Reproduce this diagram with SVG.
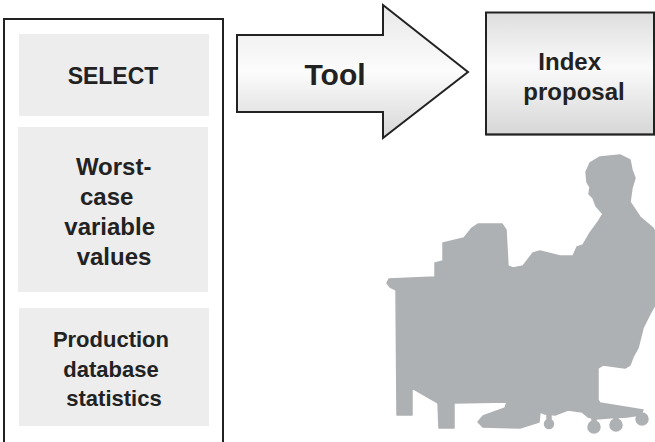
<svg xmlns="http://www.w3.org/2000/svg" width="655" height="442" viewBox="0 0 655 442">
  <defs>
    <linearGradient id="arrowFill" gradientUnits="userSpaceOnUse" x1="0" y1="5" x2="0" y2="138">
      <stop offset="0" stop-color="#e8e8e8"/>
      <stop offset="0.5" stop-color="#fcfcfc"/>
      <stop offset="1" stop-color="#d6d6d6"/>
    </linearGradient>
    <linearGradient id="boxFill" gradientUnits="userSpaceOnUse" x1="0" y1="13" x2="0" y2="135">
      <stop offset="0" stop-color="#dedede"/>
      <stop offset="0.45" stop-color="#fafafa"/>
      <stop offset="1" stop-color="#d6d6d6"/>
    </linearGradient>
  </defs>
  <style>
    .frame { fill: #ffffff; stroke: #222222; stroke-width: 2; }
    .panel { fill: #ededed; }
    .lbl { font-family: "Liberation Sans", Arial, sans-serif; font-weight: bold; fill: #222222; text-anchor: middle; }
    .figure { fill: #aeb1b3; stroke: #aeb1b3; stroke-width: 1.5; stroke-linejoin: round; }
  </style>

  <rect width="655" height="442" fill="#ffffff"/>

  <!-- input column -->
  <g id="inputs">
    <rect class="frame" x="4" y="19" width="219" height="440"/>
  </g>
  <g id="select">
    <rect class="panel" x="19" y="34" width="190" height="82"/>
    <text class="lbl" x="113" y="84" font-size="23">SELECT</text>
  </g>
  <g id="worst-case">
    <rect class="panel" x="18" y="127" width="190" height="165"/>
    <text class="lbl" font-size="24">
      <tspan x="117" y="175">Worst-</tspan>
      <tspan x="110" y="205">case</tspan>
      <tspan x="113" y="235">variable</tspan>
      <tspan x="114" y="265">values</tspan>
    </text>
  </g>
  <g id="statistics">
    <rect class="panel" x="19" y="308" width="190" height="118"/>
    <text class="lbl" font-size="22">
      <tspan x="114" y="347">Production</tspan>
      <tspan x="114" y="377">database</tspan>
      <tspan x="114" y="406">statistics</tspan>
    </text>
  </g>

  <!-- processing arrow -->
  <g id="connectors">
    <g id="tool">
      <polygon points="237,35 383,35 383,5 468,72 383,138 383,112 237,112" fill="url(#arrowFill)" stroke="#222222" stroke-width="2" stroke-linejoin="miter"/>
      <text class="lbl" x="335" y="85" font-size="30">Tool</text>
    </g>
  </g>

  <!-- output -->
  <g id="index-proposal">
    <rect x="486" y="12.5" width="168" height="122" fill="url(#boxFill)" stroke="#222222" stroke-width="2"/>
    <line x1="486" y1="134.5" x2="655" y2="134.5" stroke="#222222" stroke-width="1.5"/>
    <text class="lbl" font-size="24">
      <tspan x="573" y="70">Index</tspan>
      <tspan x="574" y="100">proposal</tspan>
    </text>
  </g>

  <!-- person at a desk -->
  <g id="user" class="figure">
    <path d="M389,279 L435,277 L435,263 L443,261 L443,243 L464,238 L472,228 L478,224 L502,224 L506,230 L508,266 L513,268 L523,266 L533,253 L540,251 L560,256 L573,256 L577,247 L583,245 L590,233 L598,222 L603,214 L596,206 L593,198 L589,194 L590,187 L587,182 L586,172 L590,163 L600,157 L620,155 L630,160 L632,170 L635,178 L632,188 L630,202 L640,217 L653,228 L655,232 L655,305 L650,314 L643,328 L638,348 L633,357 L630,365 L625,368 L603,365 L598,368 L598,400 L600,403 L643,410 L640,415 L627,417 L608,418 L596,419 L588,417 L582,412 L568,410 L555,415 L545,414 L540,412 L539,422 L520,428 L483,427 L478,422 L483,416 L505,408 L507,402 L454,403 L454,428 L439,428 L438,403 L412,388 L412,415 L397,415 L396,290 L390,287 L387,283 Z"/>
    <circle cx="642" cy="419" r="6"/>
    <circle cx="616" cy="425" r="6"/>
    <circle cx="594" cy="427" r="6"/>
    <circle cx="549" cy="424" r="4.5"/>
    <rect x="547" y="413" width="4" height="8"/>
    <rect x="592" y="416" width="4" height="8"/>
    <rect x="614" y="414" width="4" height="8"/>
  </g>
</svg>
